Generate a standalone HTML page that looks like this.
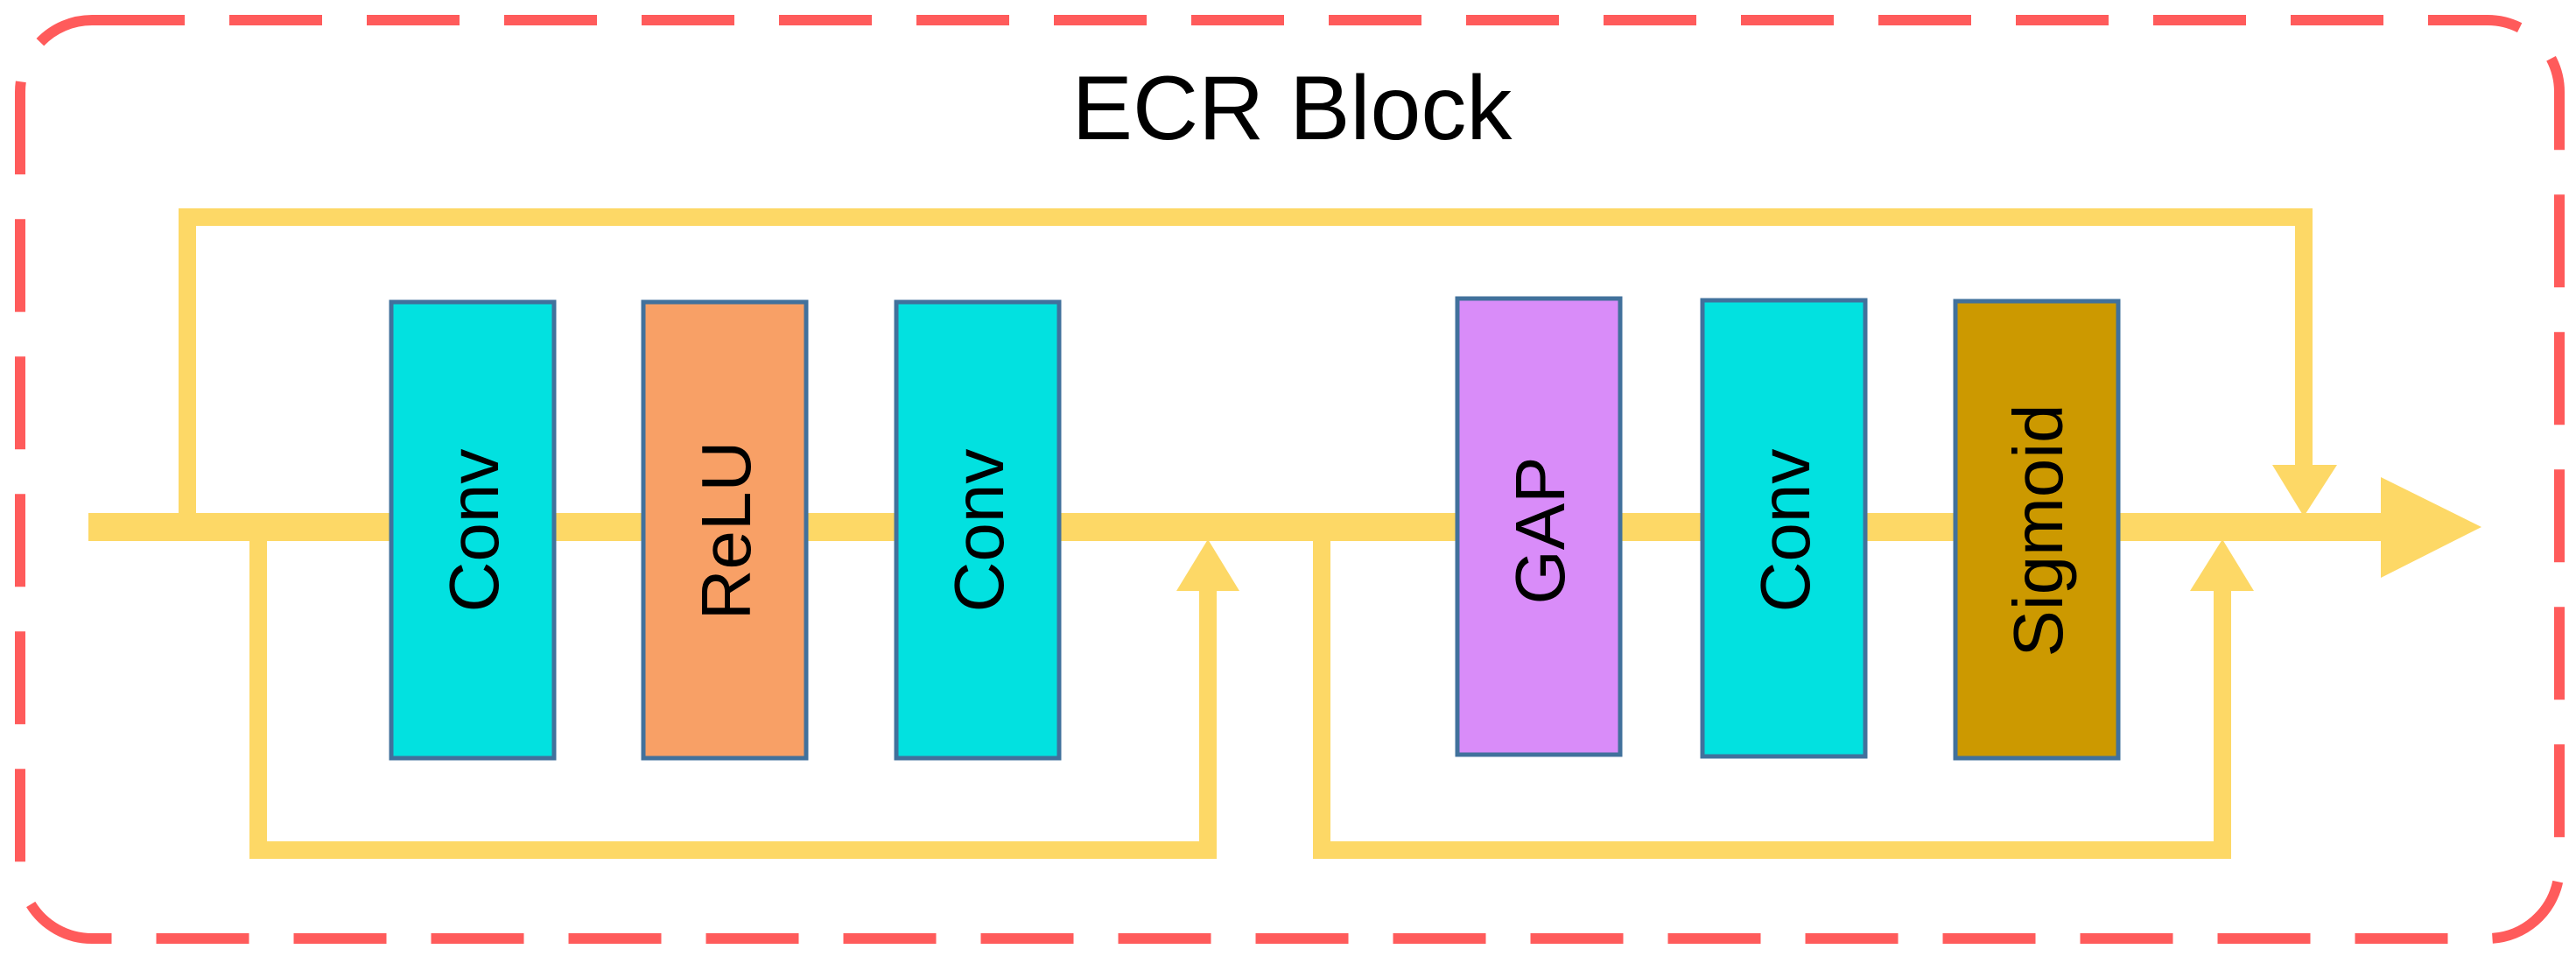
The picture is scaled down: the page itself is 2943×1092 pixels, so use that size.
<!DOCTYPE html>
<html><head><meta charset="utf-8"><style>
html,body{margin:0;padding:0;background:#fff;}
svg{display:block;}
text{font-family:"Liberation Sans",sans-serif;}
</style></head><body>
<svg width="2943" height="1092" viewBox="0 0 2943 1092" xmlns="http://www.w3.org/2000/svg">
<rect x="23" y="23" width="2901" height="1049" rx="82" ry="82" fill="none" stroke="#FF5B5B" stroke-width="12" stroke-dasharray="106 51"/>
<text x="1476" y="159" font-size="104" text-anchor="middle" fill="#000">ECR Block</text>
<g fill="none" stroke="#FDD866" stroke-linejoin="miter">
<line x1="101" y1="602" x2="2722" y2="602" stroke-width="32"/>
<polyline points="214,602 214,248 2632,248 2632,540" stroke-width="20"/>
<polyline points="295,602 295,971 1380,971 1380,670" stroke-width="20"/>
<polyline points="1510,602 1510,971 2539,971 2539,670" stroke-width="20"/>
</g>
<g fill="#FDD866">
<polygon points="2720,545 2835,602 2720,660"/>
<polygon points="2596,531 2670,531 2632,590"/>
<polygon points="1344,675 1416,675 1380,616"/>
<polygon points="2502,675 2575,675 2539,616"/>
</g>
<g stroke="#41719C" stroke-width="5">
<rect x="447" y="345" width="186" height="521" fill="#02E1E0"/>
<rect x="735" y="345" width="186" height="521" fill="#F8A066"/>
<rect x="1024" y="345" width="186" height="521" fill="#02E1E0"/>
<rect x="1665" y="341" width="186" height="521" fill="#D98CF9"/>
<rect x="1945" y="343" width="186" height="521" fill="#02E1E0"/>
<rect x="2234" y="344" width="186" height="522" fill="#CC9900"/>
</g>
<g font-size="80" fill="#000" text-anchor="middle">
<text transform="translate(569,606) rotate(-90)">Conv</text>
<text transform="translate(857,606) rotate(-90)">ReLU</text>
<text transform="translate(1146,606) rotate(-90)">Conv</text>
<text transform="translate(1787,606) rotate(-90)">GAP</text>
<text transform="translate(2067,606) rotate(-90)">Conv</text>
<text transform="translate(2356,606) rotate(-90)">Sigmoid</text>
</g>
</svg>
</body></html>
